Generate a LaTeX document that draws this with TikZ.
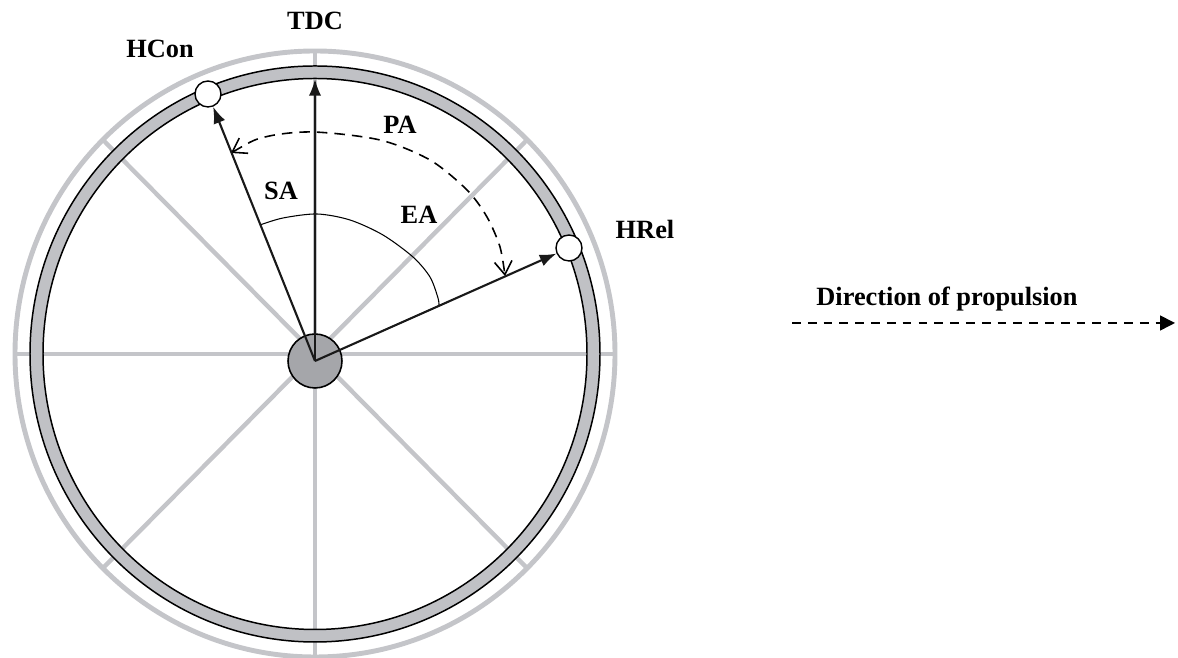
\documentclass[tikz,border=0pt]{standalone}
\usepackage{fontspec}
\setmainfont{Liberation Serif}
\usepackage{xcolor}
\usepackage{tikz}
\usetikzlibrary{arrows.meta}
\usetikzlibrary{calc}

\definecolor{ringgray}{RGB}{196,197,201}
\definecolor{tiregray}{RGB}{192,193,197}
\definecolor{hubgray}{RGB}{165,166,170}

\tikzset{
  lbl/.style={font=\bfseries\fontsize{15}{18}\selectfont, inner sep=0pt},
  spoke/.style={color=ringgray, line width=2.5pt},
  crank/.style={black!90, line width=1.2pt, -{Latex[length=9.5pt,width=7pt]}},
  pin/.style={circle, draw=black, fill=white, line width=0.8pt, minimum size=0.52cm, inner sep=0pt},
  hubdisc/.style={circle, draw=black, fill=hubgray, line width=0.9pt, minimum size=1.08cm, inner sep=0pt}
}

\begin{document}
\begin{tikzpicture}[x=0.02cm,y=0.02cm]
\useasboundingbox (0,0) rectangle (1178,658);
\coordinate (wc) at (315,304);
% outer ring and spokes
\draw[color=ringgray, line width=2.8pt] (wc) ellipse [x radius=300, y radius=303];
\foreach \a in {0,45,...,315}
    \draw[spoke] (wc) -- +(\a:300 and 303);
% tyre
\fill[tiregray, even odd rule] (wc) ellipse [x radius=285, y radius=288] (wc) ellipse [x radius=272, y radius=275.5];
\draw[line width=0.85pt] (wc) ellipse [x radius=285, y radius=288];
\draw[line width=0.85pt] (wc) ellipse [x radius=272, y radius=275.5];
% hub and pins
\node[hubdisc] (hub) at (315,297) {};
\node[pin] (hcon) at (208,564) {};
\node[pin] (hrel) at (569,410) {};
\coordinate (tdc) at (315,579);
% angle arcs
\draw[line width=0.6pt] plot[smooth] coordinates {(260,433) (283,440) (317,444) (350,438) (383,423) (413,401) (430,381) (438,360) (439,352)};
\draw[line width=0.9pt, dash pattern=on 6pt off 4pt, {Straight Barb[length=7.5pt,width=10pt]}-{Straight Barb[length=7.5pt,width=10pt]}]
   plot[smooth] coordinates {(231,505) (265,521) (313,526) (380,518) (430,498) (467,468) (487,441) (500,411) (505,382)};
% cranks
\draw[crank] (hub.center) -- (tdc);
\draw[crank] (hub.center) -- (hcon);
\draw[crank] (hub.center) -- (hrel);
% labels
\node[lbl] (tdclbl) at (315,637.5) {TDC};
\node[lbl] (hconlbl) at (160,609) {HCon};
\node[lbl] (hrellbl) at (645,429) {HRel};
\node[lbl] (palbl) at (400,533) {PA};
\node[lbl] (ealbl) at (419,443) {EA};
\node[lbl] (salbl) at (281,467) {SA};
% direction of propulsion
\node[lbl] (dirlbl) at (947,359) {Direction of propulsion};
\coordinate (dstart) at (792,335);
\coordinate (dend) at (1175,335);
\draw[line width=0.9pt, dash pattern=on 5pt off 4pt, -{Triangle[length=8.5pt,width=8.5pt]}] (dstart) -- (dend);
\end{tikzpicture}
\end{document}
